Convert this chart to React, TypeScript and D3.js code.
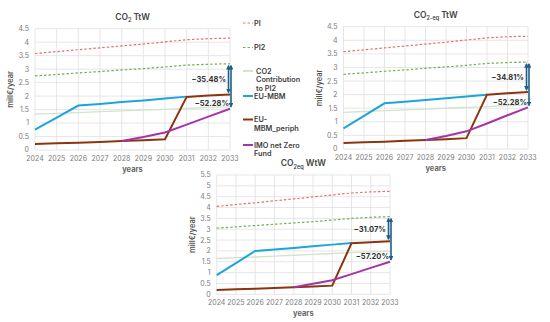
import * as d3 from 'd3';

const years = [2024, 2025, 2026, 2027, 2028, 2029, 2030, 2031, 2032, 2033];

// CO2 TtW
const ttwPI = [3.58, 3.65, 3.72, 3.79, 3.86, 3.93, 4.01, 4.09, 4.13, 4.15];
const ttwPI2 = [2.75, 2.8, 2.86, 2.91, 2.97, 3.02, 3.08, 3.15, 3.18, 3.2];
const ttwContrib = [1.33, 1.36, 1.39, 1.42, 1.45, 1.48, 1.51, 1.54, 1.58, 1.6];
const ttwEU = [0.76, 1.2, 1.65, 1.71, 1.78, 1.84, 1.91, 1.98, null, null];
const ttwPeriph = [0.22, 0.25, 0.27, 0.3, 0.33, 0.36, 0.4, 1.97, 2.02, 2.06];
const ttwIMO = [null, null, null, null, 0.33, 0.48, 0.65, 0.94, 1.24, 1.53];
const ttwPct = ['−35.48%', '−52.28%'];

// CO2-eq TtW
const eqPI = [3.58, 3.65, 3.72, 3.79, 3.86, 3.93, 4.01, 4.09, 4.13, 4.15];
const eqPI2 = [2.75, 2.8, 2.86, 2.91, 2.97, 3.02, 3.08, 3.15, 3.18, 3.2];
const eqContrib = [1.35, 1.38, 1.41, 1.44, 1.47, 1.5, 1.53, 1.56, 1.6, 1.62];
const eqEU = [0.76, 1.22, 1.68, 1.74, 1.8, 1.87, 1.93, 2.0, null, null];
const eqPeriph = [0.22, 0.25, 0.27, 0.3, 0.33, 0.36, 0.4, 2.0, 2.05, 2.1];
const eqIMO = [null, null, null, null, 0.33, 0.48, 0.65, 0.94, 1.24, 1.53];
const eqPct = ['−34.81%', '−52.28%'];

// CO2eq WtW
const wtwPI = [4.05, 4.14, 4.22, 4.31, 4.4, 4.49, 4.58, 4.67, 4.72, 4.75];
const wtwPI2 = [3.05, 3.11, 3.17, 3.23, 3.29, 3.35, 3.42, 3.5, 3.55, 3.58];
const wtwContrib = [1.65, 1.69, 1.72, 1.76, 1.8, 1.84, 1.88, 1.92, 1.96, 1.98];
const wtwEU = [0.88, 1.44, 2.0, 2.07, 2.14, 2.22, 2.29, 2.37, null, null];
const wtwPeriph = [0.2, 0.23, 0.26, 0.29, 0.32, 0.36, 0.4, 2.35, 2.4, 2.45];
const wtwIMO = [null, null, null, null, 0.33, 0.49, 0.65, 0.93, 1.22, 1.5];
const wtwPct = ['−31.07%', '−57.20%'];

const seriesNames = ['PI', 'PI2', 'CO2 Contribution to PI2', 'EU-MBM', 'EU-MBM_periph', 'IMO not Zero Fund'];
const legendLabels = [['PI'], ['PI2'], ['CO2', 'Contribution', 'to PI2'], ['EU-MBM'], ['EU-', 'MBM_periph'], ['IMO net Zero', 'Fund']];

const colors = ['#e8706a', '#79ad55', '#d3e3cc', '#1ca5dc', '#8a3510', '#a535a6'];
const arrowColor = '#1d6088';
const font = 'Inter, "Open Sans", sans-serif';

type Panel = {
  key: string;
  title: [string, string, string];
  x0: number; x1: number; y0: number; y1: number;
  yMax: number;
  series: (number | null)[][];
  pct: string[];
  labelX: number;
};

const panels: Panel[] = [
  { key: 'a', title: ['CO', '2', ' TtW'], x0: 35, x1: 230, y0: 150, y1: 28.7, yMax: 4.5,
    series: [ttwPI, ttwPI2, ttwContrib, ttwEU, ttwPeriph, ttwIMO], pct: ttwPct, labelX: 13 },
  { key: 'b', title: ['CO', '2-eq', ' TtW'], x0: 343.5, x1: 528, y0: 149, y1: 26.7, yMax: 4.5,
    series: [eqPI, eqPI2, eqContrib, eqEU, eqPeriph, eqIMO], pct: eqPct, labelX: 322 },
  { key: 'c', title: ['CO', '2eq', ' WtW'], x0: 216.7, x1: 390, y0: 294.3, y1: 175, yMax: 5.5,
    series: [wtwPI, wtwPI2, wtwContrib, wtwEU, wtwPeriph, wtwIMO], pct: wtwPct, labelX: 195 },
];

const ChartPanel = ({ p }: { p: Panel }) => {
  const x = d3.scaleLinear().domain([2024, 2033]).range([p.x0, p.x1]);
  const y = d3.scaleLinear().domain([0, p.yMax]).range([p.y0, p.y1]);
  const yTicks = d3.range(0, p.yMax + 0.001, 0.5);
  const line = d3
    .line<number | null>()
    .defined((d) => d != null)
    .x((_, i) => x(years[i]))
    .y((d) => y(d as number));
  const last = years.length - 1;
  const pi2End = p.series[1][last] as number;
  const periphEnd = p.series[4][last] as number;
  const imoEnd = p.series[5][last] as number;
  const xEnd = x(2033);

  return (
    <g>
      {/* grid */}
      {yTicks.map((t) => (
        <line key={'h' + t} x1={p.x0} x2={p.x1} y1={y(t)} y2={y(t)} stroke="#e0e0e0" strokeWidth={0.8} />
      ))}
      {years.map((yr) => (
        <line key={'v' + yr} x1={x(yr)} x2={x(yr)} y1={p.y0} y2={y(p.yMax)} stroke="#e0e0e0" strokeWidth={0.8} />
      ))}
      {yTicks.map((t) => (
        <text key={'yl' + t} x={p.x0 - 6} y={y(t)} dy="0.35em" textAnchor="end" fontSize={7} fill="#7a7a7a" fontFamily={font}>
          {d3.format('~g')(t)}
        </text>
      ))}
      {years.map((yr) => (
        <text key={'xl' + yr} x={x(yr)} y={p.y0 + 11} textAnchor="middle" fontSize={7} fill="#7a7a7a" fontFamily={font}>
          {yr}
        </text>
      ))}
      <text x={(p.x0 + p.x1) / 2} y={p.y0 + 22} textAnchor="middle" fontSize={7.5} fontWeight={700} fill="#666" fontFamily={font}>
        years
      </text>
      <text
        transform={`translate(${p.labelX},${(p.y0 + y(p.yMax)) / 2}) rotate(-90)`}
        textAnchor="middle" fontSize={7.5} fontWeight={600} fill="#555" fontFamily={font}
      >
        mill€/year
      </text>
      <text x={(p.x0 + p.x1) / 2} y={y(p.yMax) - 9} textAnchor="middle" fontSize={8.5} fill="#444" fontFamily={font} fontWeight={600}>
        {p.title[0]}
        <tspan fontSize={5.5} dy={2.5}>{p.title[1]}</tspan>
        <tspan dy={-2.5}>{p.title[2]}</tspan>
      </text>
      {/* series */}
      {p.series.map((s, i) => (
        <path
          key={seriesNames[i]}
          d={line(s) as string}
          fill="none"
          stroke={colors[i]}
          strokeWidth={i < 2 ? 1.2 : i === 2 ? 1.3 : 2}
          strokeDasharray={i < 2 ? '2.5,2' : undefined}
        />
      ))}
      {/* arrows */}
      <line x1={xEnd - 1.5} x2={xEnd - 1.5} y1={y(pi2End) + 2} y2={y(periphEnd) - 2} stroke={arrowColor} strokeWidth={1.6}
        markerStart={`url(#arr-${p.key})`} markerEnd={`url(#arr-${p.key})`} />
      <line x1={xEnd + 1} x2={xEnd + 1} y1={y(pi2End) + 2} y2={y(imoEnd) - 2} stroke={arrowColor} strokeWidth={1.6}
        markerStart={`url(#arr-${p.key})`} markerEnd={`url(#arr-${p.key})`} />
      <defs>
        <marker id={`arr-${p.key}`} viewBox="0 0 10 10" refX={8} refY={5} markerWidth={3} markerHeight={3} orient="auto-start-reverse">
          <path d="M0,0 L10,5 L0,10 z" fill={arrowColor} />
        </marker>
      </defs>
      <text x={xEnd - 4} y={(y(pi2End) + y(periphEnd)) / 2} dy="0.35em" textAnchor="end" fontSize={7.5} fontWeight={700} fill="#333" fontFamily={font}>
        {p.pct[0]}
      </text>
      <text x={xEnd - 1} y={y(imoEnd) - 5} dy="0.35em" textAnchor="end" fontSize={7.5} fontWeight={700} fill="#333" fontFamily={font}>
        {p.pct[1]}
      </text>
    </g>
  );
};

const legendY = [23, 47.5, 71, 96, 119.5, 145];

const Legend = () => (
  <g>
    {legendLabels.map((lines, i) => (
      <g key={seriesNames[i]}>
        <line x1={243} x2={253} y1={legendY[i]} y2={legendY[i]} stroke={colors[i]}
          strokeWidth={i < 2 ? 1.2 : 2} strokeDasharray={i < 2 ? '2.5,2' : undefined} />
        {lines.map((t, j) => (
          <text key={t} x={i === 2 ? 256 : 254} y={legendY[i] + j * 8.5} dy="0.35em" fontSize={7.3} fontWeight={600} fill="#404040" fontFamily={font}>
            {t}
          </text>
        ))}
      </g>
    ))}
  </g>
);

const App = () => (
  <svg width={550} height={322} style={{ position: 'absolute', left: 0, top: 0, background: '#fff' }}>
    {panels.map((p) => (
      <ChartPanel key={p.key} p={p} />
    ))}
    <Legend />
  </svg>
);

export default App;
